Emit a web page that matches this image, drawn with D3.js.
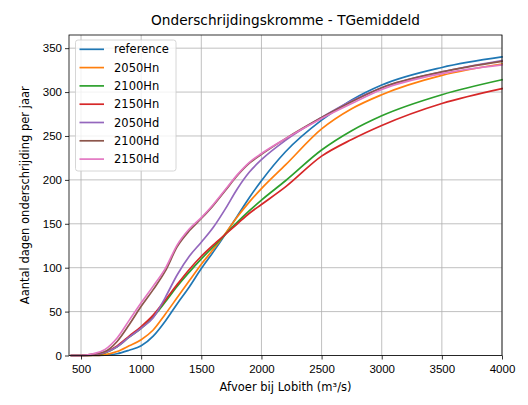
<!DOCTYPE html>
<html>
<head>
<meta charset="utf-8">
<script src="https://cdn.jsdelivr.net/npm/d3@7"></script>
<style>
  body { margin: 0; background: #fff; }
  svg { font-family: "DejaVu Sans", sans-serif; }
  .gridline { stroke: #b0b0b0; stroke-width: 0.8; }
  .tick-label { font-size: 11.5px; fill: #000; }
  .axis-label { font-size: 11.5px; fill: #000; }
  .title { font-size: 13.7px; fill: #000; }
  .legend-text { font-size: 11.5px; fill: #000; }
</style>
</head>
<body>
<div id="chart"></div>
<script>
// Discharge at Lobith (m3/s)
const afvoer = [420, 500, 600, 700, 800, 900, 1000, 1100, 1200, 1300, 1400, 1500, 1600,
  1700, 1800, 1900, 2000, 2200, 2500, 2750, 3000, 3500, 4000];

const seriesNames = ['reference', '2050Hn', '2100Hn', '2150Hn', '2050Hd', '2100Hd', '2150Hd'];
const seriesColors = ['#1f77b4', '#ff7f0e', '#2ca02c', '#d62728', '#9467bd', '#8c564b', '#e377c2'];

// Days per year below the discharge, one array per scenario
const reference = [0, 0, 0, 0.5, 2, 6, 11, 22, 39, 59, 78, 99, 118, 138, 159, 180, 199, 232, 268, 291, 308, 328, 340];
const hn2050 = [0, 0, 0, 1, 4.5, 11, 18, 29, 47, 66, 85, 104, 121, 139, 158, 175, 190, 217, 258, 281, 297, 319, 332];
const hn2100 = [0, 0, 0.5, 3, 10, 21, 31, 44, 61, 79, 95, 110, 124, 138, 152, 165, 177, 199, 234, 256, 273, 297, 314];
const hn2150 = [0, 0, 0.5, 3.5, 11, 22, 33, 46, 63, 81, 98, 113, 126, 138, 150, 162, 172, 192, 227, 246, 262, 287, 304];
const hd2050 = [0, 0, 1, 3.5, 10, 21, 31, 43, 66, 92, 113, 129, 146, 167, 190, 209, 223, 245, 271, 290, 305, 323, 336];
const hd2100 = [0, 0, 1.5, 4.5, 16, 35, 56, 75, 96, 124, 142, 156, 171, 188, 205, 219, 229, 247, 271, 289, 305, 323, 335];
const hd2150 = [0, 0, 2, 7, 20, 40, 60, 79, 99, 126, 144, 157, 172, 189, 206, 220, 230, 247, 270, 287, 303, 321, 331];

const seriesValues = [reference, hn2050, hn2100, hn2150, hd2050, hd2100, hd2150];

const xTicks = [500, 1000, 1500, 2000, 2500, 3000, 3500, 4000];
const yTicks = [0, 50, 100, 150, 200, 250, 300, 350];

const Chart = {

  config: {
    width: 528,
    height: 405,
    left: 69,
    right: 502,
    top: 35,
    bottom: 355.5,
    xDomain: [400, 4000],
    yDomain: [0, 365],
    tickSize: 4,
    lineWidth: 1.7,
  },

  svg: null,
  xScale: null,
  yScale: null,

  render(containerEl) {
    const cfg = this.config;

    this.svg = d3.select(containerEl)
      .append('svg')
      .attr('width', cfg.width)
      .attr('height', cfg.height);

    this.xScale = d3.scaleLinear().domain(cfg.xDomain).range([cfg.left, cfg.right]);
    this.yScale = d3.scaleLinear().domain(cfg.yDomain).range([cfg.bottom, cfg.top]);

    this._renderGrid();
    this._renderLines();
    this._renderAxes();
    this._renderLegend();
    this._renderLabels();
  },

  _renderGrid() {
    const cfg = this.config;
    const g = this.svg.append('g').attr('class', 'grid');

    xTicks.forEach(t => {
      g.append('line')
        .attr('x1', this.xScale(t)).attr('x2', this.xScale(t))
        .attr('y1', cfg.top).attr('y2', cfg.bottom)
        .attr('class', 'gridline');
    });
    yTicks.forEach(t => {
      g.append('line')
        .attr('x1', cfg.left).attr('x2', cfg.right)
        .attr('y1', this.yScale(t)).attr('y2', this.yScale(t))
        .attr('class', 'gridline');
    });
  },

  _renderLines() {
    const g = this.svg.append('g').attr('class', 'lines');

    const line = d3.line()
      .x((d, i) => this.xScale(afvoer[i]))
      .y(d => this.yScale(d))
      .curve(d3.curveMonotoneX);

    seriesValues.forEach((vals, i) => {
      g.append('path')
        .datum(vals)
        .attr('d', line)
        .attr('fill', 'none')
        .attr('stroke', seriesColors[i])
        .attr('stroke-width', this.config.lineWidth)
        .attr('stroke-linejoin', 'round')
        .attr('stroke-linecap', 'square');
    });
  },

  _renderAxes() {
    const cfg = this.config;

    const xAxis = d3.axisBottom(this.xScale)
      .tickValues(xTicks)
      .tickSize(cfg.tickSize)
      .tickPadding(3)
      .tickFormat(d3.format('d'));

    const yAxis = d3.axisLeft(this.yScale)
      .tickValues(yTicks)
      .tickSize(cfg.tickSize)
      .tickPadding(3)
      .tickFormat(d3.format('d'));

    const gx = this.svg.append('g')
      .attr('transform', `translate(0,${cfg.bottom})`)
      .call(xAxis);
    const gy = this.svg.append('g')
      .attr('transform', `translate(${cfg.left},0)`)
      .call(yAxis);

    [gx, gy].forEach(g => {
      g.select('.domain').remove();
      g.selectAll('.tick line').attr('stroke', '#000').attr('stroke-width', 0.8);
      g.selectAll('.tick text')
        .attr('class', 'tick-label')
        .attr('font-family', null)
        .attr('font-size', null);
    });
    gx.selectAll('.tick text').attr('dy', '0.95em');

    // Frame
    this.svg.append('rect')
      .attr('x', cfg.left)
      .attr('y', cfg.top)
      .attr('width', cfg.right - cfg.left)
      .attr('height', cfg.bottom - cfg.top)
      .attr('fill', 'none')
      .attr('stroke', '#000')
      .attr('stroke-width', 0.8);
  },

  _renderLegend() {
    const g = this.svg.append('g').attr('class', 'legend');
    const x0 = 75.5, y0 = 40, rowH = 18.3;

    g.append('rect')
      .attr('x', x0)
      .attr('y', y0)
      .attr('width', 100.5)
      .attr('height', 131)
      .attr('rx', 2.5)
      .attr('fill', '#fff')
      .attr('fill-opacity', 0.8)
      .attr('stroke', '#cccccc')
      .attr('stroke-width', 0.8);

    seriesNames.forEach((name, i) => {
      const y = y0 + 9.3 + i * rowH;
      g.append('line')
        .attr('x1', x0 + 4).attr('x2', x0 + 28.5)
        .attr('y1', y).attr('y2', y)
        .attr('stroke', seriesColors[i])
        .attr('stroke-width', this.config.lineWidth);
      g.append('text')
        .attr('x', x0 + 38.5)
        .attr('y', y)
        .attr('dy', '0.35em')
        .attr('class', 'legend-text')
        .text(name);
    });
  },

  _renderLabels() {
    const cfg = this.config;
    const cx = (cfg.left + cfg.right) / 2;

    this.svg.append('text')
      .attr('x', cx)
      .attr('y', 25)
      .attr('text-anchor', 'middle')
      .attr('class', 'title')
      .text('Onderschrijdingskromme - TGemiddeld');

    this.svg.append('text')
      .attr('x', cx)
      .attr('y', 391)
      .attr('text-anchor', 'middle')
      .attr('class', 'axis-label')
      .text('Afvoer bij Lobith (m³/s)');

    this.svg.append('text')
      .attr('transform', `translate(29,${(cfg.top + cfg.bottom) / 2}) rotate(-90)`)
      .attr('text-anchor', 'middle')
      .attr('class', 'axis-label')
      .text('Aantal dagen onderschrijding per jaar');
  },
};

Chart.render(document.getElementById('chart'));
</script>
</body>
</html>
